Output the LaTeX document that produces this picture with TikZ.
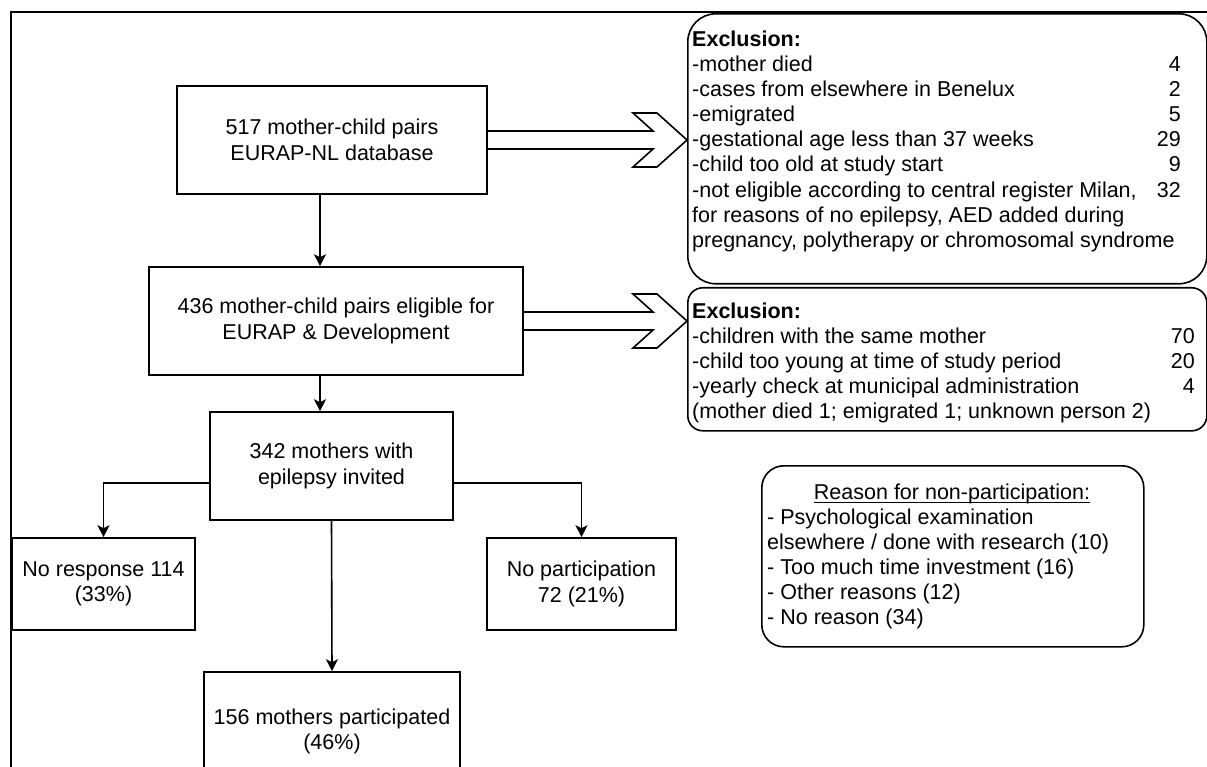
\documentclass[tikz,border=0pt]{standalone}
\usepackage{fontspec}
\setmainfont{Liberation Sans}
\usetikzlibrary{arrows.meta,calc}
\newcommand{\myfs}{\fontsize{21.5}{25.5}\selectfont}
\tikzset{
  box/.style={draw, line width=1.6pt, align=center, inner sep=0pt, font=\myfs},
  rbox/.style={draw, line width=1.6pt, rounded corners=#1, inner sep=0pt, anchor=north west},
  con/.style={line width=1.6pt, -{Stealth[length=12pt,width=12pt,inset=3pt]}},
  hollow/.style={line width=1.6pt, line join=miter},
  txt/.style={inner sep=0pt, font=\myfs},
  frame/.style={line width=2.4pt},
}
\begin{document}
\begin{tikzpicture}[x=1pt,y=-1pt]
\useasboundingbox (0,0) rectangle (1207,767);
\fill[white] (0,0) rectangle (1207,767);
\clip (0,0) rectangle (1207,767);

% frame
\draw[frame] (11,767) -- (11,12) -- (1207,12);

% main flow boxes
\node[box, minimum width=310pt, minimum height=108pt] (box1) at (332,140) {517 mother-child pairs\\EURAP-NL database};
\node[box, minimum width=374pt, minimum height=108pt] (box2) at (336,321) {436 mother-child pairs eligible for\\EURAP \& Development};
\node[box, minimum width=243pt, minimum height=108pt] (box3) at (331.5,466) {342 mothers with\\epilepsy invited};
\node[box, minimum width=183pt, minimum height=92pt] (noresp) at (103.5,584) {No response 114\\(33\%)};
\node[box, minimum width=189pt, minimum height=92pt] (nopart) at (581.5,584) {No participation\\72 (21\%)};
\node[box, minimum width=256pt, minimum height=119pt] (box4) at (332,731.5) {156 mothers participated\\(46\%)};

% rounded side boxes
\node[rbox=28pt, minimum width=519pt, minimum height=270pt] (ex1) at (687,13) {};
\node[rbox=15pt, minimum width=519pt, minimum height=143pt] (ex2) at (687,287) {};
\node[rbox=22pt, minimum width=382pt, minimum height=181pt] (rs) at (761,465) {};

% connectors
\coordinate (c1) at (320,0);
\draw[con] (box1.south -| c1) -- (box2.north -| c1);
\draw[con] (box2.south -| c1) -- (box3.north -| c1);
\draw[con] (box3.south) -- (box4.north);
\draw[con] ($(box3.west)+(0,17)$) -| (noresp.north);
\draw[con] ($(box3.east)+(0,17)$) -| (nopart.north);

% hollow chevron arrows
\foreach \a/\b in {box1/ex1, box2/ex2}{
  \coordinate (T) at (\b.west |- \a.east);
  \draw[hollow] ($(\a.east)+(0,-9)$) -- ($(T)+(-34,-9)$) -- ($(T)+(-54,-27)$) -- ($(T)+(-30,-27)$) -- (T)
     -- ($(T)+(-30,27)$) -- ($(T)+(-54,27)$) -- ($(T)+(-34,9)$) -- ($(\a.east)+(0,9)$);
}

% exclusion 1 text
\node[txt, anchor=base west] (a1) at (692,46.5) {\textbf{Exclusion:}};
\node[txt, anchor=base west] (a2) at (692,71.6) {-mother died};
\node[txt, anchor=base west] (a3) at (692,96.7) {-cases from elsewhere in Benelux};
\node[txt, anchor=base west] (a4) at (692,121.8) {-emigrated};
\node[txt, anchor=base west] (a5) at (692,146.9) {-gestational age less than 37 weeks};
\node[txt, anchor=base west] (a6) at (692,172) {-child too old at study start};
\node[txt, anchor=base west] (a7) at (692,197.1) {-not eligible according to central register Milan,};
\node[txt, anchor=base west] (a8) at (692,222.2) {for reasons of no epilepsy, AED added during};
\node[txt, anchor=base west] (a9) at (692,247.3) {pregnancy, polytherapy or chromosomal syndrome};
\node[txt, anchor=base east] (n2) at (1181,71.6) {4};
\node[txt, anchor=base east] (n3) at (1181,96.7) {2};
\node[txt, anchor=base east] (n4) at (1181,121.8) {5};
\node[txt, anchor=base east] (n5) at (1181,146.9) {29};
\node[txt, anchor=base east] (n6) at (1181,172) {9};
\node[txt, anchor=base east] (n7) at (1181,197.1) {32};

% exclusion 2 text
\node[txt, anchor=base west] (b1) at (692,318.5) {\textbf{Exclusion:}};
\node[txt, anchor=base west] (b2) at (692,343.5) {-children with the same mother};
\node[txt, anchor=base west] (b3) at (692,368.5) {-child too young at time of study period};
\node[txt, anchor=base west] (b4) at (692,393.5) {-yearly check at municipal administration};
\node[txt, anchor=base west] (b5) at (692,418.5) {(mother died 1; emigrated 1; unknown person 2)};
\node[txt, anchor=base east] (m2) at (1195,343.5) {70};
\node[txt, anchor=base east] (m3) at (1195,368.5) {20};
\node[txt, anchor=base east] (m4) at (1195,393.5) {4};

% reason text
\node[txt, anchor=base] (r1) at (952,499.5) {Reason for non-participation:};
\draw[line width=1pt] ($(r1.base west)+(0,3)$) -- ($(r1.base east)+(0,3)$);
\node[txt, anchor=base west] (r2) at (767,524.5) {- Psychological examination};
\node[txt, anchor=base west] (r3) at (767,549.5) {elsewhere / done with research (10)};
\node[txt, anchor=base west] (r4) at (767,574.5) {- Too much time investment (16)};
\node[txt, anchor=base west] (r5) at (767,599.5) {- Other reasons (12)};
\node[txt, anchor=base west] (r6) at (767,624.5) {- No reason (34)};
\end{tikzpicture}
\end{document}
